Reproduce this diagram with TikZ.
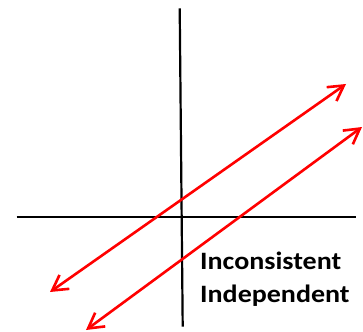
\documentclass[tikz,border=0pt]{standalone}
\usepackage{fontspec}
\setmainfont{Carlito}
\usetikzlibrary{arrows.meta}
\begin{document}
\begin{tikzpicture}[x=1pt,y=-1pt,
  axis/.style={line width=2.2pt,black},
  redline/.style={line width=2.6pt,red,line cap=round,line join=round,
    {Straight Barb[length=15pt,width=17pt,line width=2.6pt]}-{Straight Barb[length=15pt,width=17pt,line width=2.6pt]}},
  lbl/.style={anchor=base west,inner sep=0pt,font=\bfseries\fontsize{25}{30}\selectfont}]
\useasboundingbox (0,0) rectangle (363,331);
\clip (0,0) rectangle (363,331);
\coordinate (vt) at (179.7,8.3);
\coordinate (vb) at (182.7,326.7);
\coordinate (hl) at (16.7,216.7);
\coordinate (hr) at (356,216.7);
\draw[axis] (vt) -- (vb);
\draw[axis] (hl) -- (hr);
\coordinate (a1) at (50,292);
\coordinate (b1) at (346,84);
\coordinate (a2) at (86,330);
\coordinate (b2) at (362,127);
\draw[redline] (a1) -- (b1);
\draw[redline] (a2) -- (b2);
\node[lbl,xscale=1.12] (t1) at (200,269.5) {Inconsistent};
\node[lbl,xscale=1.12] (t2) at (200,302.7) {Independent};
\end{tikzpicture}
\end{document}
